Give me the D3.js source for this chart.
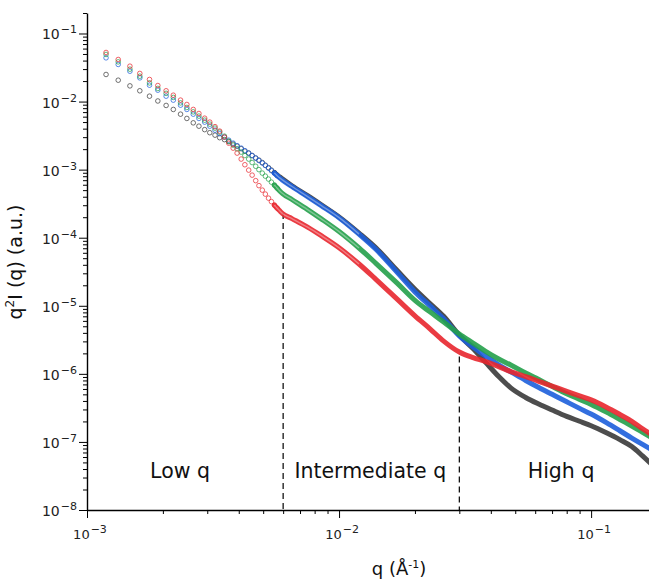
<!DOCTYPE html>
<html>
<head>
<meta charset="utf-8">
<script src="https://cdn.jsdelivr.net/npm/d3@7"></script>
<style>
  body { margin: 0; background: #fff; }
  svg { display: block; font-family: "DejaVu Sans", "Liberation Sans", Arial, sans-serif; }
  .axis .domain { stroke: #000; stroke-width: 1.4; }
  .axis line { stroke: #000; stroke-width: 1; }
</style>
</head>
<body>
<svg id="chart" width="649" height="581"></svg>
<script>
// q values (1/Angstrom): the sparse low-q points, then the dense part
const qValues = [
  0.00119, 0.00133, 0.00148, 0.00162, 0.00177, 0.00191, 0.00206, 0.00220, 0.00235, 0.00249,
  0.00264, 0.00278, 0.00293, 0.00307, 0.00322, 0.00336, 0.00351, 0.00365, 0.00380, 0.00394,
  0.00409, 0.00423, 0.00438, 0.00452, 0.00467, 0.00481, 0.00496, 0.00510, 0.00525, 0.00539,
  0.00554, 0.00568, 0.00583, 0.00597,
  0.0065, 0.0075, 0.0085, 0.010, 0.012, 0.014, 0.017, 0.020, 0.023, 0.026,
  0.030, 0.034, 0.038, 0.043, 0.048, 0.055, 0.062, 0.070, 0.080, 0.090,
  0.100, 0.115, 0.130, 0.145, 0.160, 0.175
];

const blackValues = [
  2.50e-2, 2.06e-2, 1.70e-2, 1.44e-2, 1.20e-2, 1.02e-2, 8.77e-3, 7.66e-3, 6.53e-3, 5.65e-3,
  4.87e-3, 4.35e-3, 3.87e-3, 3.49e-3, 3.21e-3, 2.95e-3, 2.76e-3, 2.58e-3, 2.37e-3, 2.21e-3,
  2.03e-3, 1.87e-3, 1.75e-3, 1.61e-3, 1.48e-3, 1.38e-3, 1.27e-3, 1.16e-3, 1.07e-3, 9.84e-4,
  9.04e-4, 8.30e-4, 7.76e-4, 7.26e-4,
  5.80e-4, 4.15e-4, 3.05e-4, 2.02e-4, 1.17e-4, 7.10e-5, 3.30e-5, 1.75e-5, 1.07e-5, 7.00e-6,
  3.70e-6, 2.35e-6, 1.50e-6, 9.12e-7, 6.23e-7, 4.50e-7, 3.60e-7, 2.94e-7, 2.37e-7, 2.01e-7,
  1.73e-7, 1.36e-7, 1.08e-7, 8.56e-8, 6.23e-8, 4.58e-8
];

const blueValues = [
  4.39e-2, 3.51e-2, 2.79e-2, 2.23e-2, 1.74e-2, 1.47e-2, 1.20e-2, 1.05e-2, 8.85e-3, 7.66e-3,
  6.53e-3, 5.65e-3, 4.99e-3, 4.35e-3, 3.80e-3, 3.38e-3, 3.00e-3, 2.71e-3, 2.45e-3, 2.25e-3,
  2.07e-3, 1.90e-3, 1.75e-3, 1.61e-3, 1.48e-3, 1.36e-3, 1.25e-3, 1.15e-3, 1.05e-3, 9.66e-4,
  8.89e-4, 8.16e-4, 7.50e-4, 7.01e-4,
  5.65e-4, 4.02e-4, 2.96e-4, 1.97e-4, 1.13e-4, 6.76e-5, 3.10e-5, 1.60e-5, 9.87e-6, 6.43e-6,
  3.62e-6, 2.48e-6, 1.85e-6, 1.35e-6, 1.07e-6, 8.0e-7, 6.3e-7, 5.0e-7, 3.88e-7, 3.11e-7,
  2.57e-7, 1.92e-7, 1.46e-7, 1.14e-7, 9.2e-8, 7.6e-8
];

const greenValues = [
  4.92e-2, 3.83e-2, 2.99e-2, 2.36e-2, 1.88e-2, 1.56e-2, 1.32e-2, 1.15e-2, 9.57e-3, 8.19e-3,
  7.06e-3, 6.11e-3, 5.33e-3, 4.66e-3, 4.07e-3, 3.56e-3, 3.10e-3, 2.62e-3, 2.29e-3, 2.03e-3,
  1.81e-3, 1.61e-3, 1.43e-3, 1.27e-3, 1.12e-3, 1.00e-3, 8.89e-4, 8.03e-4, 7.26e-4, 6.55e-4,
  5.92e-4, 5.35e-4, 4.83e-4, 4.45e-4,
  3.64e-4, 2.59e-4, 1.89e-4, 1.23e-4, 7.06e-5, 4.21e-5, 2.15e-5, 1.20e-5, 8.08e-6, 5.77e-6,
  3.84e-6, 2.83e-6, 2.16e-6, 1.65e-6, 1.35e-6, 1.03e-6, 8.25e-7, 6.55e-7, 5.12e-7, 4.22e-7,
  3.56e-7, 2.74e-7, 2.14e-7, 1.71e-7, 1.38e-7, 1.14e-7
];

const redValues = [
  5.26e-2, 4.15e-2, 3.31e-2, 2.59e-2, 2.11e-2, 1.72e-2, 1.44e-2, 1.24e-2, 1.05e-2, 9.06e-3,
  7.66e-3, 6.68e-3, 5.70e-3, 4.99e-3, 4.28e-3, 3.68e-3, 3.00e-3, 2.45e-3, 2.07e-3, 1.75e-3,
  1.43e-3, 1.18e-3, 9.84e-4, 8.30e-4, 6.89e-4, 5.82e-4, 5.00e-4, 4.37e-4, 3.81e-4, 3.39e-4,
  3.01e-4, 2.72e-4, 2.46e-4, 2.26e-4,
  1.91e-4, 1.43e-4, 1.07e-4, 7.13e-5, 4.11e-5, 2.45e-5, 1.25e-5, 7.11e-6, 4.55e-6, 3.03e-6,
  2.09e-6, 1.73e-6, 1.52e-6, 1.28e-6, 1.08e-6, 9.12e-7, 7.78e-7, 6.62e-7, 5.53e-7, 4.75e-7,
  4.14e-7, 3.24e-7, 2.53e-7, 2.01e-7, 1.56e-7, 1.26e-7
];

const xTickExponents = [-3, -2, -1];
const yTickExponents = [-8, -7, -6, -5, -4, -3, -2, -1];
const regionNames = ["Low q", "Intermediate q", "High q"];
const boundaryQ = [0.006, 0.03];
const boundaryTop = [2.3e-4, 1.8e-6];

const svg = d3.select("#chart");

const x = d3.scaleLog().domain([1e-3, 0.2]).range([87, 667]);
const y = d3.scaleLog().domain([1e-8, 0.2]).range([510, 13]);

// 2..9 times each decade, for the small ticks
function minorTicks(lo, hi, max) {
  const out = [];
  for (let e = lo; e < hi; e++) {
    for (let m = 2; m <= 9; m++) {
      const v = m * Math.pow(10, e);
      if (v <= max) out.push(v);
    }
  }
  return out;
}

// x axis
svg.append("g").attr("class", "axis")
  .attr("transform", "translate(0,510)")
  .call(d3.axisBottom(x).tickValues(minorTicks(-3, 0, 0.2)).tickSize(4).tickSizeOuter(0).tickFormat(""));
svg.append("g").attr("class", "axis")
  .attr("transform", "translate(0,510)")
  .call(d3.axisBottom(x).tickValues(xTickExponents.map(e => Math.pow(10, e))).tickSize(8).tickSizeOuter(0).tickFormat(""))
  .select(".domain").remove();

// y axis
svg.append("g").attr("class", "axis")
  .attr("transform", "translate(87,0)")
  .call(d3.axisLeft(y).tickValues(minorTicks(-8, 0, 0.2)).tickSize(4).tickSizeOuter(0).tickFormat(""));
svg.append("g").attr("class", "axis")
  .attr("transform", "translate(87,0)")
  .call(d3.axisLeft(y).tickValues(yTickExponents.map(e => Math.pow(10, e))).tickSize(8).tickSizeOuter(0).tickFormat(""))
  .select(".domain").remove();

function powerLabel(sel, e) {
  sel.append("tspan").text("10");
  sel.append("tspan").attr("dx", 1).attr("dy", -6).attr("font-size", 11).text("\u2212" + Math.abs(e));
}

svg.append("g").selectAll("text").data(xTickExponents).join("text")
  .attr("x", d => x(Math.pow(10, d)) + 3)
  .attr("y", 539)
  .attr("text-anchor", "middle")
  .attr("font-size", 13)
  .attr("fill", "#222")
  .each(function (d) { powerLabel(d3.select(this), d); });

svg.append("g").selectAll("text").data(yTickExponents).join("text")
  .attr("x", 77)
  .attr("y", d => y(Math.pow(10, d)) + 6)
  .attr("text-anchor", "end")
  .attr("font-size", 14)
  .attr("fill", "#222")
  .each(function (d) { powerLabel(d3.select(this), d); });

// axis titles
const xTitle = svg.append("text")
  .attr("x", 399).attr("y", 575)
  .attr("text-anchor", "middle")
  .attr("font-size", 18)
  .attr("fill", "#111");
xTitle.append("tspan").text("q (\u00c5");
xTitle.append("tspan").attr("dy", -7).attr("font-size", 11).text("-1");
xTitle.append("tspan").attr("dy", 7).text(")");

const yTitle = svg.append("text")
  .attr("transform", "translate(22,262) rotate(-90)")
  .attr("text-anchor", "middle")
  .attr("font-size", 19)
  .attr("fill", "#111");
yTitle.append("tspan").text("q");
yTitle.append("tspan").attr("dy", -8).attr("font-size", 12).text("2");
yTitle.append("tspan").attr("dy", 8).text("I (q) (a.u.)");

// region dividers
svg.append("g").selectAll("line").data(boundaryQ).join("line")
  .attr("x1", d => x(d)).attr("x2", d => x(d))
  .attr("y1", (d, i) => y(boundaryTop[i])).attr("y2", 510)
  .attr("stroke", "#000").attr("stroke-width", 1.2)
  .attr("stroke-dasharray", "6,4");

// region names, centred in each zone
const regionCenters = [0.00234, 0.0133, 0.076];
svg.append("g").selectAll("text").data(regionNames).join("text")
  .attr("x", (d, i) => x(regionCenters[i]))
  .attr("y", 478)
  .attr("text-anchor", "middle")
  .attr("font-size", 20.5)
  .attr("fill", "#111")
  .text(d => d);

// data
const series = [
  { values: blackValues, color: "#3a3a3a" },
  { values: blueValues, color: "#1d5fdc" },
  { values: greenValues, color: "#23a04a" },
  { values: redValues, color: "#e8262d" }
];

const bandStart = 0.0057;
const line = d3.line().x(d => x(d.q)).y(d => y(d.v)).curve(d3.curveMonotoneX);

series.forEach(s => {
  const pts = qValues.map((q, i) => ({ q: q, v: s.values[i] }));
  const g = svg.append("g");
  g.selectAll("circle").data(pts.filter(d => d.q < bandStart)).join("circle")
    .attr("cx", d => x(d.q))
    .attr("cy", d => y(d.v))
    .attr("r", 2.3)
    .attr("fill", "none")
    .attr("stroke", s.color)
    .attr("stroke-width", 0.9)
    .attr("stroke-opacity", 0.8);
  const band = pts.filter(d => d.q >= bandStart - 0.0003);
  g.append("path").datum(band)
    .attr("d", line)
    .attr("fill", "none")
    .attr("stroke", s.color)
    .attr("stroke-width", 5)
    .attr("stroke-opacity", 0.9)
    .attr("stroke-linecap", "round");
  g.append("path").datum(band.filter(d => d.q < 0.014))
    .attr("d", line)
    .attr("fill", "none")
    .attr("stroke", "#fff")
    .attr("stroke-width", 1.4)
    .attr("stroke-opacity", 0.35);
});
</script>
</body>
</html>
